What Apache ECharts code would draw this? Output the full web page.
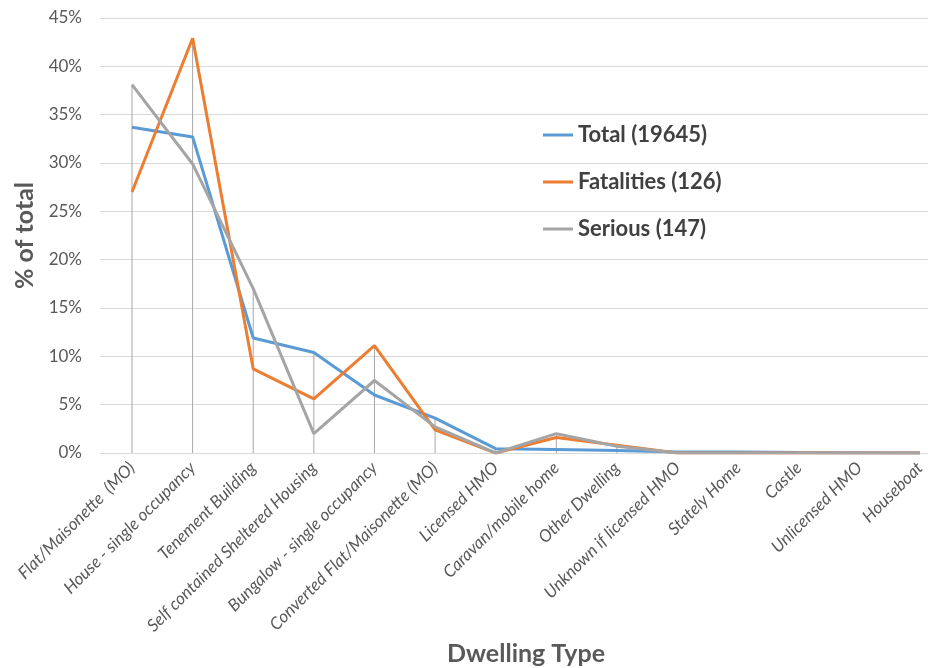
<!DOCTYPE html>
<html>
<head>
<meta charset="utf-8">
<script src="https://cdn.jsdelivr.net/npm/echarts@6/dist/echarts.min.js"></script>
<style>
    html, body { margin: 0; padding: 0; background: #fff; }
    #chart { width: 940px; height: 668px; }
</style>
</head>
<body>
<div id="chart"></div>
<script>
const dwellingTypes = [
    'Flat/Maisonette  (MO)', 'House - single occupancy', 'Tenement Building',
    'Self contained Sheltered Housing', 'Bungalow - single occupancy',
    'Converted Flat/Maisonette (MO)', 'Licensed HMO', 'Caravan/mobile home',
    'Other Dwelling', 'Unknown if licensed HMO', 'Stately Home', 'Castle',
    'Unlicensed HMO', 'Houseboat'
];
const totalPct = [33.7, 32.7, 11.9, 10.4, 6.0, 3.6, 0.45, 0.35, 0.25, 0.1, 0.1, 0.05, 0.03, 0.01];
const fatalitiesPct = [27.0, 42.9, 8.7, 5.6, 11.1, 2.4, 0, 1.6, 0.8, 0, 0, 0, 0, 0];
const seriousPct = [38.1, 29.9, 17.0, 2.0, 7.5, 2.7, 0, 2.0, 0.7, 0, 0, 0, 0, 0];
const seriesNames = ['Total (19645)', 'Fatalities (126)', 'Serious (147)'];
const yTicks = { min: 0, max: 45, interval: 5 };

// drop lines go from the highest series value down to the axis
const dropTops = dwellingTypes.map((_, i) => Math.max(totalPct[i], fatalitiesPct[i], seriousPct[i]));

const textColor = '#595959';
const fontFamily = 'Lato, "Open Sans", sans-serif';

const chart = echarts.init(document.getElementById('chart'));

function lineSeries(name, data, color) {
    return {
        name: name,
        type: 'line',
        xAxisIndex: 0,
        yAxisIndex: 0,
        data: data,
        symbol: 'none',
        lineStyle: { color: color, width: 3 },
        itemStyle: { color: color },
        z: 3
    };
}

chart.setOption({
    backgroundColor: '#fff',
    textStyle: { fontFamily: fontFamily },
    animation: false,
    grid: [
        { left: 132, right: 20, top: 18, bottom: 215, outerBoundsMode: 'none' },
        { left: 100, right: 12, top: 18, bottom: 215, outerBoundsMode: 'none' }
    ],
    legend: {
        orient: 'vertical',
        left: 543,
        top: 124,
        padding: 0,
        itemGap: 25,
        icon: 'rect',
        itemWidth: 30,
        itemHeight: 3,
        data: seriesNames,
        textStyle: { color: '#404040', fontSize: 22, fontWeight: 'bold', fontFamily: fontFamily }
    },
    xAxis: [
        {
            type: 'category',
            gridIndex: 0,
            data: dwellingTypes,
            boundaryGap: false,
            axisLine: { show: false },
            axisTick: { show: false },
            axisLabel: {
                rotate: 45,
                interval: 0,
                margin: 12,
                color: textColor,
                fontSize: 17,
                fontStyle: 'italic',
                fontFamily: fontFamily
            },
            name: 'Dwelling Type',
            nameLocation: 'middle',
            nameGap: 186,
            nameTextStyle: { color: textColor, fontSize: 25, fontWeight: 'bold', fontFamily: fontFamily }
        },
        {
            type: 'value',
            gridIndex: 1,
            show: false
        }
    ],
    yAxis: [
        {
            type: 'value',
            gridIndex: 0,
            min: yTicks.min,
            max: yTicks.max,
            interval: yTicks.interval,
            show: false
        },
        {
            type: 'value',
            gridIndex: 1,
            min: yTicks.min,
            max: yTicks.max,
            interval: yTicks.interval,
            axisLine: { show: false },
            axisTick: { show: false },
            axisLabel: { formatter: '{value}%', color: textColor, fontSize: 17, margin: 18, fontFamily: fontFamily },
            splitLine: { lineStyle: { color: '#d9d9d9', width: 1 } },
            name: '% of total',
            nameLocation: 'middle',
            nameRotate: 90,
            nameGap: 60,
            nameTextStyle: { color: textColor, fontSize: 25, fontWeight: 'bold', fontFamily: fontFamily }
        }
    ],
    series: [
        {
            name: 'drop',
            type: 'bar',
            xAxisIndex: 0,
            yAxisIndex: 0,
            data: dropTops,
            barWidth: 1,
            itemStyle: { color: '#a6a6a6' },
            silent: true,
            z: 1
        },
        lineSeries(seriesNames[0], totalPct, '#5b9bd5'),
        lineSeries(seriesNames[1], fatalitiesPct, '#ed7d31'),
        lineSeries(seriesNames[2], seriousPct, '#a5a5a5')
    ]
});
</script>
</body>
</html>
